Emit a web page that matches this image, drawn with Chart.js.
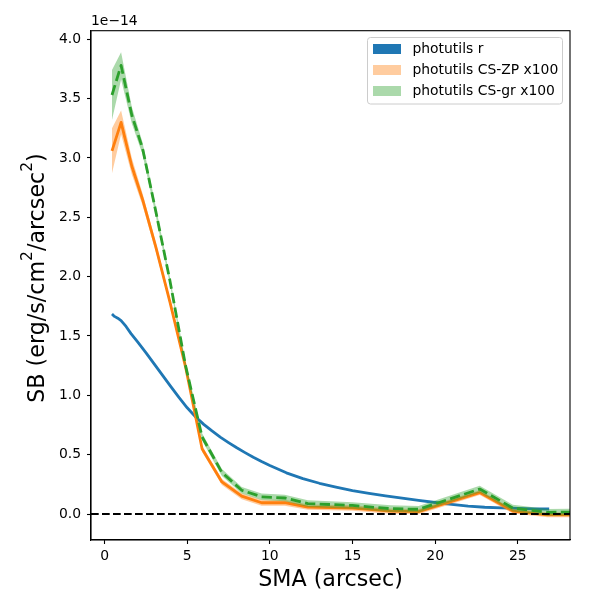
<!DOCTYPE html>
<html>
<head>
<meta charset="utf-8">
<script src="https://cdn.jsdelivr.net/npm/chart.js@4"></script>
<style>
html,body{margin:0;padding:0;background:#fff;}
#wrap{width:600px;height:600px;}
</style>
</head>
<body>
<div id="wrap"><canvas id="c" width="600" height="600"></canvas></div>
<script>
// ---- data (SB in units of 1e-14) ----
const sma = [0.45, 1.0, 1.65, 2.3, 3.1, 3.95, 4.9, 5.9, 7.1, 8.3, 9.5, 10.9, 12.3, 15.0, 17.3, 19.0, 22.7, 24.7, 26.8, 29.0];
const orangeSB   = [3.06, 3.30, 2.93, 2.65, 2.25, 1.79, 1.24, 0.55, 0.27, 0.15, 0.095, 0.095, 0.058, 0.05, 0.025, 0.02, 0.18, 0.025, -0.008, -0.008];
const orangeLo   = [2.87, 3.20, 2.86, 2.60, 2.21, 1.76, 1.21, 0.525, 0.245, 0.125, 0.07, 0.07, 0.035, 0.027, 0.003, -0.002, 0.16, 0.005, -0.028, -0.028];
const orangeHi   = [3.25, 3.40, 3.00, 2.70, 2.29, 1.82, 1.27, 0.575, 0.295, 0.175, 0.12, 0.12, 0.081, 0.073, 0.047, 0.042, 0.20, 0.045, 0.012, 0.012];
const greenSB    = [3.53, 3.78, 3.36, 3.08, 2.55, 1.97, 1.25, 0.65, 0.35, 0.20, 0.145, 0.135, 0.088, 0.072, 0.045, 0.04, 0.21, 0.05, 0.014, 0.017];
const greenLo    = [3.32, 3.66, 3.29, 3.03, 2.51, 1.94, 1.22, 0.62, 0.32, 0.172, 0.117, 0.107, 0.06, 0.044, 0.017, 0.012, 0.182, 0.022, -0.014, -0.011];
const greenHi    = [3.74, 3.89, 3.43, 3.13, 2.59, 2.00, 1.28, 0.68, 0.38, 0.228, 0.173, 0.163, 0.116, 0.10, 0.073, 0.068, 0.238, 0.078, 0.042, 0.045];

const blueSma = [0.45, 0.6, 0.8, 1.0, 1.3, 1.6, 2.0, 2.5, 3.0, 3.5, 4.0, 4.5, 5.0, 5.5, 6.0, 6.5, 7.0, 7.5, 8.0, 8.5, 9.0, 9.5, 10.0, 11.0, 12.0, 13.0, 14.0, 15.0, 16.0, 17.0, 18.0, 19.0, 20.0, 21.0, 22.0, 23.0, 24.0, 25.0, 26.0, 26.9];
const blueSB  = [1.685, 1.665, 1.65, 1.63, 1.58, 1.52, 1.45, 1.36, 1.265, 1.17, 1.075, 0.982, 0.895, 0.82, 0.755, 0.70, 0.648, 0.602, 0.558, 0.517, 0.478, 0.442, 0.408, 0.347, 0.298, 0.259, 0.227, 0.198, 0.174, 0.153, 0.133, 0.114, 0.097, 0.081, 0.067, 0.057, 0.051, 0.047, 0.044, 0.042];

const legendLabels = ["photutils r", "photutils CS-ZP x100", "photutils CS-gr x100"];
const xTicks = [0, 5, 10, 15, 20, 25];
const yTicks = [0.0, 0.5, 1.0, 1.5, 2.0, 2.5, 3.0, 3.5, 4.0];
const xLimits = [-0.82, 28.16];
const yLimits = [-0.219, 4.072];
const zeroLevel = [0, 0];
const yTitleParts = [["SB (erg/s/cm", false], ["2", true], ["/arcsec", false], ["2", true], [")", false]];

// ---- styles ----
const C_BLUE = '#1f77b4', C_ORANGE = '#ff7f0e', C_GREEN = '#2ca02c';
const F_ORANGE = 'rgba(255,127,14,0.4)', F_GREEN = 'rgba(44,160,44,0.4)';
const FONT = 'DejaVu Sans';
const TITLE_SIZE = 22.2;

const pts = (xs, ys) => xs.map((x, i) => ({x: x, y: ys[i]}));

const common = {pointRadius: 0, pointHoverRadius: 0, tension: 0, borderCapStyle: 'butt', borderJoinStyle: 'round'};

const datasets = [
  Object.assign({label: 'zero', data: pts(xLimits, zeroLevel), borderColor: '#000', borderWidth: 2, borderDash: [7.7, 3.3], fill: false, order: 0}, common),
  Object.assign({label: legendLabels[2], data: pts(sma, greenSB), borderColor: C_GREEN, borderWidth: 2.8, borderDash: [10.3, 4.4], fill: false, order: 1}, common),
  Object.assign({label: 'gLo', data: pts(sma, greenLo), borderWidth: 0, borderColor: 'rgba(0,0,0,0)', fill: false, order: 3}, common),
  Object.assign({label: 'gHi', data: pts(sma, greenHi), borderWidth: 0, borderColor: 'rgba(0,0,0,0)', backgroundColor: F_GREEN, fill: 2, order: 2}, common),
  Object.assign({label: legendLabels[1], data: pts(sma, orangeSB), borderColor: C_ORANGE, borderWidth: 2.8, fill: false, order: 4}, common),
  Object.assign({label: 'oLo', data: pts(sma, orangeLo), borderWidth: 0, borderColor: 'rgba(0,0,0,0)', fill: false, order: 6}, common),
  Object.assign({label: 'oHi', data: pts(sma, orangeHi), borderWidth: 0, borderColor: 'rgba(0,0,0,0)', backgroundColor: F_ORANGE, fill: 5, order: 5}, common),
  Object.assign({label: legendLabels[0], data: pts(blueSma, blueSB), borderColor: C_BLUE, borderWidth: 2.8, fill: false, order: 7}, common)
];

const framePlugin = {
  id: 'frame',
  afterDraw(chart) {
    const {ctx, chartArea: a} = chart;
    ctx.save();
    ctx.strokeStyle = '#000';
    ctx.lineWidth = 1.1;
    ctx.strokeRect(a.left, a.top, a.right - a.left, a.bottom - a.top);
    // offset text
    ctx.fillStyle = '#000';
    ctx.font = '13.9px "' + FONT + '"';
    ctx.textAlign = 'left';
    ctx.textBaseline = 'alphabetic';
    ctx.fillText('1e\u221214', a.left, 25);
    // legend
    const bx = 367.5, by = 37.5, bw = 195, bh = 66.5, r = 3;
    ctx.globalAlpha = 0.8;
    ctx.fillStyle = '#fff';
    ctx.beginPath();
    ctx.roundRect(bx, by, bw, bh, r);
    ctx.fill();
    ctx.globalAlpha = 1;
    ctx.strokeStyle = '#cccccc';
    ctx.lineWidth = 1;
    ctx.stroke();
    const cols = [C_BLUE, F_ORANGE, F_GREEN];
    const rowY = [49, 70, 91];
    for (let i = 0; i < 3; i++) {
      ctx.fillStyle = cols[i];
      ctx.fillRect(373, rowY[i] - 5, 28, 10);
      ctx.fillStyle = '#000';
      ctx.textBaseline = 'middle';
      ctx.fillText(legendLabels[i], 412.5, rowY[i] + 0.5);
    }
    // y axis title with superscripts
    const mainFont = TITLE_SIZE + 'px "' + FONT + '"';
    const supFont = (TITLE_SIZE * 0.7) + 'px "' + FONT + '"';
    let total = 0;
    const widths = yTitleParts.map(([t, sup]) => { ctx.font = sup ? supFont : mainFont; const w = ctx.measureText(t).width; total += w; return w; });
    ctx.translate(43.5, 278);
    ctx.rotate(-Math.PI / 2);
    ctx.textBaseline = 'alphabetic';
    ctx.textAlign = 'left';
    ctx.fillStyle = '#000';
    let pos = -total / 2;
    yTitleParts.forEach(([t, sup], i) => {
      ctx.font = sup ? supFont : mainFont;
      ctx.fillText(t, pos, sup ? -12 : 0);
      pos += widths[i];
    });
    ctx.restore();
  }
};

new Chart(document.getElementById('c'), {
  type: 'line',
  data: {datasets: datasets},
  plugins: [framePlugin],
  options: {
    responsive: false,
    animation: false,
    devicePixelRatio: 1,
    layout: {padding: {top: 30.7, right: 30, left: 0, bottom: 0}},
    plugins: {legend: {display: false}, tooltip: {enabled: false}},
    scales: {
      x: {
        type: 'linear',
        min: xLimits[0], max: xLimits[1],
        afterBuildTicks: (s) => { s.ticks = xTicks.map(v => ({value: v})); },
        afterFit: (s) => { s.height = 60; },
        ticks: {color: '#000', font: {family: FONT, size: 13.9}, padding: 4, maxRotation: 0,
                callback: (v) => String(v)},
        grid: {display: true, drawOnChartArea: false, drawTicks: true, tickLength: 4, tickColor: '#000', tickWidth: 1.1},
        border: {display: true, color: '#000', width: 1.1},
        title: {display: true, text: 'SMA (arcsec)', color: '#000', font: {family: FONT, size: TITLE_SIZE}, padding: {top: 0, bottom: 6.5}}
      },
      y: {
        type: 'linear',
        min: yLimits[0], max: yLimits[1],
        afterBuildTicks: (s) => { s.ticks = yTicks.map(v => ({value: v})); },
        afterFit: (s) => { s.width = 91; },
        ticks: {color: '#000', font: {family: FONT, size: 13.9}, padding: 6,
                callback: (v) => Number(v).toFixed(1)},
        grid: {display: true, drawOnChartArea: false, drawTicks: true, tickLength: 4, tickColor: '#000', tickWidth: 1.1},
        border: {display: true, color: '#000', width: 1.1},
        title: {display: false}
      }
    }
  }
});
</script>
</body>
</html>
